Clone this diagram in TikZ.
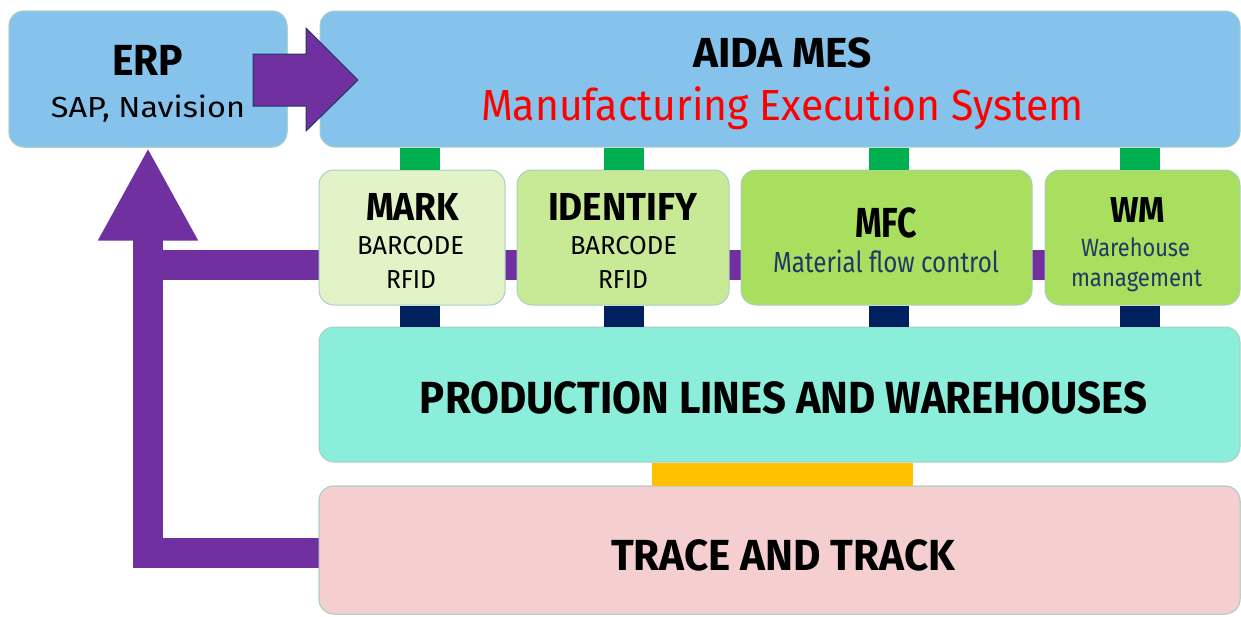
\documentclass[tikz,border=0pt]{standalone}
\usepackage{graphicx}
\usepackage{fontspec}
\setmainfont{Fira Sans}
\usetikzlibrary{arrows.meta,calc}
\definecolor{boxblue}{HTML}{85C3EC}
\definecolor{boxline}{HTML}{A9CFC2}
\definecolor{markfill}{HTML}{E2F3C8}
\definecolor{identfill}{HTML}{C8EA96}
\definecolor{mfcfill}{HTML}{A9DF5F}
\definecolor{prodfill}{HTML}{8AEEDA}
\definecolor{tracefill}{HTML}{F5CFCF}
\definecolor{connpurple}{HTML}{7030A0}
\definecolor{conngreen}{HTML}{00B050}
\definecolor{connnavy}{HTML}{002060}
\definecolor{connyellow}{HTML}{FFC000}
\definecolor{textnavy}{HTML}{1F3864}
\definecolor{textred}{HTML}{FF0000}
\newcommand\wfit[2]{\resizebox{#1}{\height}{#2}}
\newcommand\fsz[1]{\fontsize{#1}{#1}\selectfont}
\tikzset{
  blockbox/.style={rectangle, rounded corners=15pt, draw=boxline, line width=1pt, inner sep=0pt},
  lbl/.style={anchor=base, inner sep=0pt, outer sep=0pt},
  gconn/.style={draw=conngreen, line width=40pt},
  nconn/.style={draw=connnavy, line width=40pt},
  yconn/.style={draw=connyellow, line width=261pt},
  pbar/.style={draw=connpurple, line width=30pt},
}
\begin{document}
\begin{tikzpicture}[x=1pt,y=-1pt]
\useasboundingbox (0,0) rectangle (1241,616);

% boxes (positions only)
\path (148,79) node[blockbox, fill=boxblue, minimum width=278pt, minimum height=136pt] (erp) {};
\path (780,79) node[blockbox, fill=boxblue, minimum width=920pt, minimum height=136pt] (aida) {};
\path (779.5,550) node[blockbox, fill=tracefill, minimum width=921pt, minimum height=128pt] (trace) {};

% purple feedback bars (behind the boxes)
\coordinate (hb) at (148.5,265);
\coordinate (lb) at (319,553);
\draw[pbar] (hb) -- (hb -| 1142.5,0);
\draw[pbar, line join=miter, -{Triangle[length=93pt,width=93pt]}] (lb) -| (erp.south);

% redraw boxes on top of bars
\path (148,79) node[blockbox, fill=boxblue, minimum width=278pt, minimum height=136pt] {};
\path (779.5,550) node[blockbox, fill=tracefill, minimum width=921pt, minimum height=128pt] {};

\path (412,237.5) node[blockbox, fill=markfill, minimum width=186pt, minimum height=135pt] (mark) {};
\path (623,237.5) node[blockbox, fill=identfill, minimum width=212pt, minimum height=135pt] (ident) {};
\path (886.5,237.5) node[blockbox, fill=mfcfill, minimum width=291pt, minimum height=135pt] (mfc) {};
\path (1142.5,237.5) node[blockbox, fill=mfcfill, minimum width=195pt, minimum height=135pt] (wm) {};
\path (779.5,394.5) node[blockbox, fill=prodfill, minimum width=921pt, minimum height=135pt] (prod) {};

% green connectors AIDA -> modules
\draw[gconn] ([xshift=8pt]mark.north) -- ([xshift=8pt]mark.north |- aida.south);
\draw[gconn] ([xshift=0.5pt]ident.north) -- ([xshift=0.5pt]ident.north |- aida.south);
\draw[gconn] ([xshift=2pt]mfc.north) -- ([xshift=2pt]mfc.north |- aida.south);
\draw[gconn] ([xshift=-2.5pt]wm.north) -- ([xshift=-2.5pt]wm.north |- aida.south);
% navy connectors modules -> production
\draw[nconn] ([xshift=8pt]mark.south) -- ([xshift=8pt]mark.south |- prod.north);
\draw[nconn] ([xshift=0.5pt]ident.south) -- ([xshift=0.5pt]ident.south |- prod.north);
\draw[nconn] ([xshift=2pt]mfc.south) -- ([xshift=2pt]mfc.south |- prod.north);
\draw[nconn] ([xshift=-2.5pt]wm.south) -- ([xshift=-2.5pt]wm.south |- prod.north);
% yellow connector production -> trace
\draw[yconn] ([xshift=3pt]prod.south) -- ([xshift=3pt]prod.south |- trace.north);

% ERP -> AIDA block arrow
\coordinate (at) at (253,80);
\coordinate (ah) at (306,80);
\coordinate (ap) at (358,80);
\draw[fill=connpurple, draw=textnavy, line width=1pt, line join=miter]
  ($(at)+(0,-26)$) -- ($(ah)+(0,-26)$) -- ($(ah)+(0,-52)$) -- (ap)
  -- ($(ah)+(0,51)$) -- ($(ah)+(0,26)$) -- ($(at)+(0,26)$) -- cycle;

% texts
\node[lbl] (erpT) at (147.5,75) {\fsz{43.5}\bfseries\wfit{71pt}{ERP}};
\node[lbl] (erpS) at (148,117) {\fsz{29}\wfit{194pt}{SAP, Navision}};
\node[lbl] (aidaT) at (782.5,67) {\fsz{42}\bfseries\wfit{179pt}{AIDA MES}};
\node[lbl, text=textred] (aidaS) at (782.5,120) {\fsz{43.5}\wfit{603pt}{Manufacturing Execution System}};
\node[lbl] (markT) at (412.5,220) {\fsz{39}\bfseries\wfit{93pt}{MARK}};
\node[lbl] (markA) at (410.5,254) {\fsz{26}\wfit{107pt}{BARCODE}};
\node[lbl] (markB) at (411,288) {\fsz{26}\wfit{50pt}{RFID}};
\node[lbl] (identT) at (622.5,220) {\fsz{39}\bfseries\wfit{149pt}{IDENTIFY}};
\node[lbl] (identA) at (623.5,254) {\fsz{26}\wfit{107pt}{BARCODE}};
\node[lbl] (identB) at (623,288) {\fsz{26}\wfit{50pt}{RFID}};
\node[lbl] (mfcT) at (886,237) {\fsz{42}\bfseries\wfit{62pt}{MFC}};
\node[lbl, text=textnavy] (mfcS) at (886,272) {\fsz{29}\wfit{226pt}{Material flow control}};
\node[lbl] (wmT) at (1137.5,222) {\fsz{36}\bfseries\wfit{55pt}{WM}};
\node[lbl, text=textnavy] (wmA) at (1135.5,256) {\fsz{25}\wfit{109pt}{Warehouse}};
\node[lbl, text=textnavy] (wmB) at (1136.5,286) {\fsz{25}\wfit{131pt}{management}};
\node[lbl] (prodT) at (783.5,413) {\fsz{45}\bfseries\wfit{727pt}{PRODUCTION LINES AND WAREHOUSES}};
\node[lbl] (traceT) at (783,570) {\fsz{43.5}\bfseries\wfit{344pt}{TRACE AND TRACK}};
\end{tikzpicture}
\end{document}
